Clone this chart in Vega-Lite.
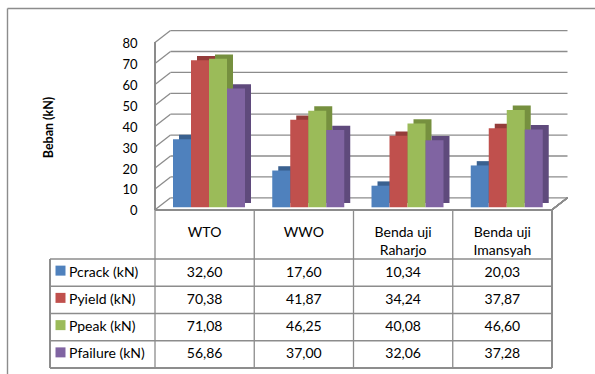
{
  "$schema": "https://vega.github.io/schema/vega-lite/v6.json",
  "width": 588,
  "height": 366,
  "autosize": "none",
  "padding": {"left": 7, "top": 8, "right": 0, "bottom": 0},
  "background": "white",
  "config": {
    "view": {"stroke": null},
    "font": "Lato",
    "locale": {"number": {"decimal": ",", "thousands": ".", "grouping": [3], "currency": ["", ""]}}
  },
  "datasets": {
    "loads": [
      {"cat": "WTO", "series": "Pcrack (kN)", "value": 32.60},
      {"cat": "WTO", "series": "Pyield (kN)", "value": 70.38},
      {"cat": "WTO", "series": "Ppeak (kN)", "value": 71.08},
      {"cat": "WTO", "series": "Pfailure (kN)", "value": 56.86},
      {"cat": "WWO", "series": "Pcrack (kN)", "value": 17.60},
      {"cat": "WWO", "series": "Pyield (kN)", "value": 41.87},
      {"cat": "WWO", "series": "Ppeak (kN)", "value": 46.25},
      {"cat": "WWO", "series": "Pfailure (kN)", "value": 37.00},
      {"cat": "Benda uji\nRaharjo", "series": "Pcrack (kN)", "value": 10.34},
      {"cat": "Benda uji\nRaharjo", "series": "Pyield (kN)", "value": 34.24},
      {"cat": "Benda uji\nRaharjo", "series": "Ppeak (kN)", "value": 40.08},
      {"cat": "Benda uji\nRaharjo", "series": "Pfailure (kN)", "value": 32.06},
      {"cat": "Benda uji\nImansyah", "series": "Pcrack (kN)", "value": 20.03},
      {"cat": "Benda uji\nImansyah", "series": "Pyield (kN)", "value": 37.87},
      {"cat": "Benda uji\nImansyah", "series": "Ppeak (kN)", "value": 46.60},
      {"cat": "Benda uji\nImansyah", "series": "Pfailure (kN)", "value": 37.28}
    ],
    "cats": [
      {"cat": "WTO"}, {"cat": "WWO"}, {"cat": "Benda uji\nRaharjo"}, {"cat": "Benda uji\nImansyah"}
    ],
    "series": [
      {"series": "Pcrack (kN)"}, {"series": "Pyield (kN)"}, {"series": "Ppeak (kN)"}, {"series": "Pfailure (kN)"}
    ],
    "levels": [
      {"level": 0}, {"level": 10}, {"level": 20}, {"level": 30}, {"level": 40},
      {"level": 50}, {"level": 60}, {"level": 70}, {"level": 80}
    ]
  },
  "resolve": {"scale": {"y": "independent"}, "axis": {"y": "independent"}},
  "layer": [
    {
      "resolve": {"scale": {"xOffset": "independent"}},
      "layer": [
        {
          "data": {"name": "levels"},
          "mark": {"type": "rule", "color": "#8c8c8c", "strokeWidth": 1.3, "xOffset": 15.5, "x2Offset": 15.5, "yOffset": -9.5},
          "encoding": {
            "x": {"datum": "WTO", "type": "nominal", "bandPosition": 0,
                  "scale": {"domain": ["WTO", "WWO", "Benda uji\nRaharjo", "Benda uji\nImansyah"], "paddingInner": 0, "paddingOuter": 0.96222, "align": 0.77487},
                  "axis": {"orient": "top", "labels": false, "ticks": false, "grid": false, "title": null, "domain": true, "domainColor": "#8c8c8c", "domainWidth": 1.4}},
            "x2": {"datum": "Benda uji\nImansyah", "bandPosition": 1},
            "y": {"field": "level", "type": "quantitative",
                  "scale": {"domain": [-79.76, 95.36], "nice": false, "zero": false},
                  "axis": {"orient": "left", "values": [0, 10, 20, 30, 40, 50, 60, 70, 80], "ticks": false, "grid": false,
                           "domain": true, "domainColor": "#8c8c8c", "domainWidth": 1.4,
                           "labelPadding": -130, "labelAlign": "right", "labelOffset": 3.5, "labelFont": "Lato", "labelFontSize": 13, "labelColor": "#000000",
                           "title": "Beban (kN)", "titleX": 41, "titleY": 119, "titleAngle": 270, "titleBaseline": "middle", "titleAlign": "center",
                           "titleFont": "Lato", "titleFontSize": 12.5, "titleFontWeight": "bold", "titleColor": "#000000"}}
          }
        },
        {
          "data": {"name": "levels"},
          "mark": {"type": "rule", "color": "#8c8c8c", "strokeWidth": 1.3, "x2Offset": 15.5, "yOffset": 2.5, "y2Offset": -9.5},
          "encoding": {
            "x": {"datum": "WTO", "type": "nominal", "bandPosition": 0},
            "x2": {"datum": "WTO", "bandPosition": 0},
            "y": {"field": "level", "type": "quantitative"},
            "y2": {"field": "level"}
          }
        },
        {
          "data": {"name": "levels"},
          "mark": {"type": "rule", "color": "#8c8c8c", "strokeWidth": 1.3, "yOffset": 2.5, "y2Offset": 2.5},
          "encoding": {
            "x": {"datum": "WTO", "type": "nominal", "bandPosition": 0},
            "y": {"datum": 80, "type": "quantitative"},
            "y2": {"datum": 0}
          }
        },
        {
          "data": {"name": "levels"},
          "mark": {"type": "rule", "color": "#8c8c8c", "strokeWidth": 1.3, "yOffset": 2.5},
          "encoding": {
            "x": {"datum": "WTO", "type": "nominal", "bandPosition": 0},
            "x2": {"datum": "Benda uji\nImansyah", "bandPosition": 1},
            "y": {"datum": 0, "type": "quantitative"}
          }
        },
        {
          "data": {"name": "levels"},
          "mark": {"type": "rule", "color": "#8c8c8c", "strokeWidth": 1.3, "x2Offset": 15.5, "yOffset": 2.5, "y2Offset": -9.5},
          "encoding": {
            "x": {"datum": "Benda uji\nImansyah", "type": "nominal", "bandPosition": 1},
            "x2": {"datum": "Benda uji\nImansyah", "bandPosition": 1},
            "y": {"datum": 0, "type": "quantitative"},
            "y2": {"datum": 0}
          }
        },
        {
          "data": {"name": "loads"},
          "mark": {"type": "bar", "yOffset": -4.3, "y2Offset": -4.3},
          "encoding": {
            "x": {"field": "cat", "type": "nominal"},
            "xOffset": {"field": "series", "type": "nominal",
                        "scale": {"domain": ["Pcrack (kN)", "Pyield (kN)", "Ppeak (kN)", "Pfailure (kN)"], "paddingInner": 0, "paddingOuter": 0.757, "align": 0.8807}},
            "y": {"field": "value", "type": "quantitative"},
            "fill": {"field": "series", "type": "nominal", "legend": null,
                     "scale": {"domain": ["Pcrack (kN)", "Pyield (kN)", "Ppeak (kN)", "Pfailure (kN)"], "range": ["#3A6190", "#943C3A", "#76903F", "#5F4A7C"]}}
          }
        },
        {
          "data": {"name": "loads"},
          "mark": {"type": "bar"},
          "encoding": {
            "x": {"field": "cat", "type": "nominal"},
            "xOffset": {"field": "series", "type": "nominal",
                        "scale": {"domain": ["Pcrack (kN)", "Pyield (kN)", "Ppeak (kN)", "Pfailure (kN)"], "paddingInner": 0, "paddingOuter": 0.757, "align": 0.6606}},
            "y": {"field": "value", "type": "quantitative"},
            "color": {"field": "series", "type": "nominal", "legend": null,
                      "scale": {"domain": ["Pcrack (kN)", "Pyield (kN)", "Ppeak (kN)", "Pfailure (kN)"], "range": ["#4F81BD", "#C0504D", "#9BBB59", "#8064A2"]}}
          }
        }
      ]
    },
    {
      "layer": [
        {
          "data": {"name": "cats"},
          "mark": {"type": "rule", "color": "#8c8c8c", "strokeWidth": 1.3, "yOffset": -49.5},
          "encoding": {
            "x": {"field": "cat", "type": "nominal", "bandPosition": 0},
            "y": {"datum": "Pcrack (kN)", "type": "nominal", "bandPosition": 0,
                  "scale": {"domain": ["Pcrack (kN)", "Pyield (kN)", "Ppeak (kN)", "Pfailure (kN)"], "paddingInner": 0, "paddingOuter": 0, "range": [251, 360]},
                  "axis": null},
            "y2": {"datum": "Pfailure (kN)", "bandPosition": 1}
          }
        },
        {
          "data": {"name": "cats"},
          "mark": {"type": "rule", "color": "#8c8c8c", "strokeWidth": 1.3, "yOffset": -49.5},
          "encoding": {
            "x": {"datum": "Benda uji\nImansyah", "type": "nominal", "bandPosition": 1},
            "y": {"datum": "Pcrack (kN)", "type": "nominal", "bandPosition": 0},
            "y2": {"datum": "Pfailure (kN)", "bandPosition": 1}
          }
        },
        {
          "data": {"name": "cats"},
          "mark": {"type": "rule", "color": "#8c8c8c", "strokeWidth": 1.3, "xOffset": -105},
          "encoding": {
            "x": {"datum": "WTO", "type": "nominal", "bandPosition": 0},
            "y": {"datum": "Pcrack (kN)", "type": "nominal", "bandPosition": 0},
            "y2": {"datum": "Pfailure (kN)", "bandPosition": 1}
          }
        },
        {
          "data": {"name": "series"},
          "mark": {"type": "rule", "color": "#8c8c8c", "strokeWidth": 1.3, "xOffset": -105},
          "encoding": {
            "x": {"datum": "WTO", "type": "nominal", "bandPosition": 0},
            "x2": {"datum": "Benda uji\nImansyah", "bandPosition": 1},
            "y": {"field": "series", "type": "nominal", "bandPosition": 0}
          }
        },
        {
          "data": {"name": "series"},
          "mark": {"type": "rule", "color": "#8c8c8c", "strokeWidth": 1.3, "xOffset": -105},
          "encoding": {
            "x": {"datum": "WTO", "type": "nominal", "bandPosition": 0},
            "x2": {"datum": "Benda uji\nImansyah", "bandPosition": 1},
            "y": {"datum": "Pfailure (kN)", "type": "nominal", "bandPosition": 1}
          }
        },
        {
          "data": {"name": "cats"},
          "mark": {"type": "text", "font": "Lato", "fontSize": 14, "color": "#000000", "baseline": "middle", "align": "center", "lineBreak": "\n", "lineHeight": 18, "yOffset": -26},
          "encoding": {
            "x": {"field": "cat", "type": "nominal"},
            "y": {"datum": "Pcrack (kN)", "type": "nominal", "bandPosition": 0},
            "text": {"field": "cat", "type": "nominal"}
          }
        },
        {
          "data": {"name": "loads"},
          "mark": {"type": "text", "font": "Lato", "fontSize": 14, "color": "#000000", "baseline": "middle", "align": "center"},
          "encoding": {
            "x": {"field": "cat", "type": "nominal"},
            "y": {"field": "series", "type": "nominal"},
            "text": {"field": "value", "type": "quantitative", "format": ".2f"}
          }
        },
        {
          "data": {"name": "series"},
          "mark": {"type": "point", "shape": "square", "filled": true, "opacity": 1, "size": 100, "xOffset": -94.5, "yOffset": -2},
          "encoding": {
            "x": {"datum": "WTO", "type": "nominal", "bandPosition": 0},
            "y": {"field": "series", "type": "nominal"},
            "color": {"field": "series", "type": "nominal", "legend": null}
          }
        },
        {
          "data": {"name": "series"},
          "mark": {"type": "text", "font": "Lato", "fontSize": 14, "color": "#000000", "baseline": "middle", "align": "left", "xOffset": -86},
          "encoding": {
            "x": {"datum": "WTO", "type": "nominal", "bandPosition": 0},
            "y": {"field": "series", "type": "nominal"},
            "text": {"field": "series", "type": "nominal"}
          }
        }
      ]
    }
  ]
}
